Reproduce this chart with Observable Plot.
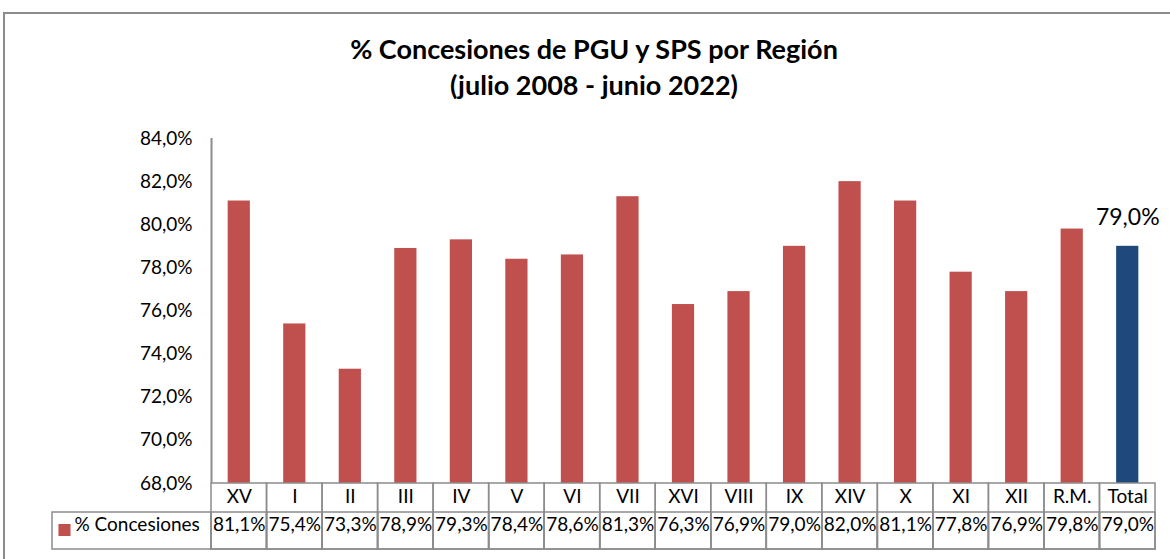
<!DOCTYPE html>
<html>
<head>
<meta charset="utf-8">
<script src="https://cdn.jsdelivr.net/npm/d3@7"></script>
<script src="https://cdn.jsdelivr.net/npm/@observablehq/plot@0.6"></script>
<style>
  html, body { margin: 0; padding: 0; background: #fff; }
  #wrap { position: relative; width: 1170px; height: 559px; overflow: hidden; font-family: Lato, "Open Sans", sans-serif; }
  #border { position: absolute; left: 3px; top: 12px; width: 1200px; height: 600px; border: 2px solid #8c8c8c; box-sizing: border-box; }
  #title { position: absolute; left: 0; width: 1188px; top: 31px; text-align: center; font-weight: bold; font-size: 27px; line-height: 36px; color: #000; }
  #chart { position: absolute; left: 0; top: 0; }
</style>
</head>
<body>
<div id="wrap">
  <div id="border"></div>
  <div id="chart"></div>
  <div id="title">% Concesiones de PGU y SPS por Región<br>(julio 2008 - junio 2022)</div>
</div>
<script>
const regions = ["XV","I","II","III","IV","V","VI","VII","XVI","VIII","IX","XIV","X","XI","XII","R.M.","Total"];
const values  = [81.1,75.4,73.3,78.9,79.3,78.4,78.6,81.3,76.3,76.9,79.0,82.0,81.1,77.8,76.9,79.8,79.0];
const seriesName = "% Concesiones";
const yTicks = [68,70,72,74,76,78,80,82,84];
const yMin = 68, yMax = 84;

const data = regions.map((r, i) => ({region: r, value: values[i]}));
const fmt = v => v.toFixed(1).replace(".", ",") + "%";

const red = "#C0504D", blue = "#1F497D", gridGray = "#8c8c8c";
const W = 1170, H = 559;
const mL = 211, mR = 15, mT = 138, mB = 76;
const pad = 0.6;
const step = (W - mL - mR) / regions.length;
const gap = pad * step / 2;           // space between column edge and bar
const bw = step * (1 - pad);
const plotH = H - mT - mB;
const row1 = 29, row2 = 37;          // table row heights
const fs = 19;

const chart = Plot.plot({
  width: W, height: H,
  marginLeft: mL, marginRight: mR, marginTop: mT, marginBottom: mB,
  style: {fontFamily: "Lato, 'Open Sans', sans-serif", fontSize: fs + "px", color: "#000", background: "transparent"},
  x: {type: "band", domain: regions, paddingInner: pad, paddingOuter: pad / 2, round: false},
  y: {domain: [yMin, yMax]},
  marks: [
    Plot.barY(data, {x: "region", y1: yMin, y2: "value", fill: d => d.region === "Total" ? blue : red}),
    // y axis
    Plot.axisY({ticks: yTicks, tickFormat: fmt, tickSize: 0, tickPadding: 19, fontSize: fs, label: null}),
    Plot.ruleX([regions[0]], {x: d => d, dx: -step / 2, y1: yMin, y2: yMax, stroke: gridGray, strokeWidth: 2}),
    // table: category row + value row cells
    Plot.cell(regions, {x: d => d, insetLeft: -gap, insetRight: -gap, insetTop: plotH, insetBottom: -(row1 + row2), fill: "none", stroke: gridGray, strokeWidth: 1.5}),
    Plot.cell(regions, {x: d => d, insetLeft: -gap, insetRight: -gap, insetTop: plotH + row1, insetBottom: -(row1 + row2), fill: "none", stroke: gridGray, strokeWidth: 1.5}),
    // legend cell
    Plot.cell([regions[0]], {x: d => d, insetLeft: -(gap + 159), insetRight: bw + gap, insetTop: plotH + row1, insetBottom: -(row1 + row2), fill: "none", stroke: gridGray, strokeWidth: 1.5}),
    Plot.dot([regions[0]], {x: d => d, frameAnchor: "bottom", dx: -(gap + bw / 2 + 147), dy: row1 + row2 / 2 - 1, symbol: "square", r: 6.8, fill: red, stroke: "none"}),
    Plot.text([seriesName], {x: () => regions[0], frameAnchor: "bottom", dx: -(gap + bw / 2 + 137), dy: row1 + row2 / 2, text: d => d, textAnchor: "start", fontSize: fs, fill: "#000"}),
    // category labels
    Plot.axisX({tickSize: 0, tickPadding: 0, fontSize: fs, label: null, dy: 6}),
    // values
    Plot.text(data, {x: "region", frameAnchor: "bottom", dy: row1 + row2 / 2, text: d => fmt(d.value), fontSize: fs, fill: "#000"}),
    // data label on Total
    Plot.text(data.filter(d => d.region === "Total"), {x: "region", y: "value", dy: -29, text: d => fmt(d.value), fontSize: 23, fill: "#000"})
  ]
});
document.getElementById("chart").appendChild(chart);
</script>
</body>
</html>
